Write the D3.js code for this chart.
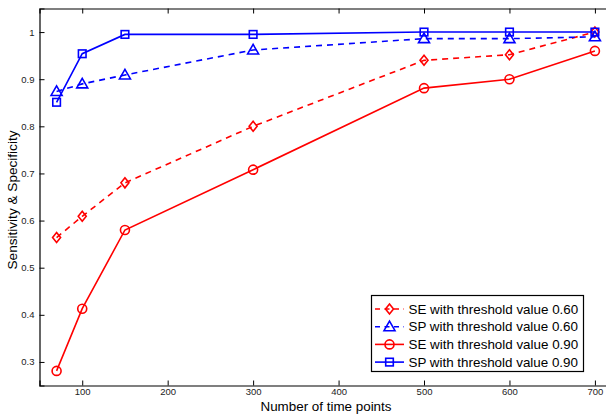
<!DOCTYPE html>
<html><head><meta charset="utf-8">
<script src="https://cdn.jsdelivr.net/npm/d3@7/dist/d3.min.js"></script>
<style>body{margin:0;background:#fff}svg{display:block}</style>
</head><body><svg id="c" width="606" height="414"></svg>
<script>
const xValues = [70, 100, 150, 300, 500, 600, 700];
const seThr060 = [0.564, 0.609, 0.680, 0.800, 0.940, 0.952, 1.000];
const spThr060 = [0.874, 0.890, 0.909, 0.962, 0.986, 0.986, 0.990];
const seThr090 = [0.281, 0.413, 0.580, 0.708, 0.881, 0.900, 0.960];
const spThr090 = [0.851, 0.954, 0.995, 0.995, 1.000, 1.000, 1.000];
const seriesNames = ["SE with threshold value 0.60","SP with threshold value 0.60","SE with threshold value 0.90","SP with threshold value 0.90"];
const xTicks = [100,200,300,400,500,600,700];
const yTicks = [0.3,0.4,0.5,0.6,0.7,0.8,0.9,1];
const xLabel = "Number of time points";
const yLabel = "Sensitivity & Specificity";

const series = [
  {name: seriesNames[0], vals: seThr060, color: "#ff0000", dash: "6,5", marker: "diamond"},
  {name: seriesNames[1], vals: spThr060, color: "#0000ff", dash: "6,5", marker: "triangle"},
  {name: seriesNames[2], vals: seThr090, color: "#ff0000", dash: null, marker: "circle"},
  {name: seriesNames[3], vals: spThr090, color: "#0000ff", dash: null, marker: "square"}
];

const svg = d3.select("#c");
const L = 39.5, T = 8.5, B = 385.5, R = 612;
const x = d3.scaleLinear().domain([50, 720]).range([L, R]);
const y = d3.scaleLinear().domain([0.25, 1.05]).range([B, T]);
const font = "'Liberation Sans', Arial, Helvetica, sans-serif";

// axes
const gx = svg.append("g").attr("transform", `translate(0,${B})`)
  .call(d3.axisBottom(x).tickValues(xTicks).tickSize(-5).tickPadding(3).tickFormat(d3.format("d")));
const gxt = svg.append("g").attr("transform", `translate(0,${T})`)
  .call(d3.axisTop(x).tickValues(xTicks).tickSize(-5).tickFormat(""));
const gy = svg.append("g").attr("transform", `translate(${L},0)`)
  .call(d3.axisLeft(y).tickValues(yTicks).tickSize(-5).tickPadding(5).tickFormat(d => d === 1 ? "1" : d3.format(".1f")(d)));
[gx, gxt, gy].forEach(g => {
  g.select(".domain").attr("stroke", "#000").attr("stroke-width", 1.2);
  g.selectAll(".tick line").attr("stroke", "#000").attr("stroke-width", 1);
  g.selectAll(".tick text").attr("font-family", font).attr("font-size", 9.5).attr("fill", "#222");
});

const line = d3.line().x((d, i) => x(xValues[i])).y(d => y(d));

function drawMarker(g, type, cx, cy, color) {
  if (type === "circle") {
    g.append("circle").attr("cx", cx).attr("cy", cy).attr("r", 4.5)
      .attr("fill", "none").attr("stroke", color).attr("stroke-width", 1.6);
  } else if (type === "square") {
    g.append("rect").attr("x", cx - 3.8).attr("y", cy - 3.8).attr("width", 7.6).attr("height", 7.6)
      .attr("fill", "none").attr("stroke", color).attr("stroke-width", 1.6);
  } else if (type === "triangle") {
    g.append("path").attr("d", `M${cx},${cy-5.5}L${cx+5.5},${cy+4}L${cx-5.5},${cy+4}Z`)
      .attr("fill", "none").attr("stroke", color).attr("stroke-width", 1.6);
  } else if (type === "diamond") {
    g.append("path").attr("d", `M${cx},${cy-5}L${cx+4},${cy}L${cx},${cy+5}L${cx-4},${cy}Z`)
      .attr("fill", "none").attr("stroke", color).attr("stroke-width", 1.6);
  }
}

const plot = svg.append("g");
series.forEach(s => {
  plot.append("path").datum(s.vals).attr("d", line)
    .attr("fill", "none").attr("stroke", s.color).attr("stroke-width", 1.6)
    .attr("stroke-dasharray", s.dash);
  const mg = plot.append("g");
  s.vals.forEach((v, i) => drawMarker(mg, s.marker, x(xValues[i]), y(v), s.color));
});

// axis labels
svg.append("text").attr("x", 326).attr("y", 410.5).attr("text-anchor", "middle")
  .attr("font-family", font).attr("font-size", 13.4).attr("fill", "#000").text(xLabel);
svg.append("text").attr("transform", "translate(17,200) rotate(-90)").attr("text-anchor", "middle")
  .attr("font-family", font).attr("font-size", 13.6).attr("fill", "#000").text(yLabel);

// legend
const lg = svg.append("g");
lg.append("rect").attr("x", 371.5).attr("y", 295.5).attr("width", 212).attr("height", 76)
  .attr("fill", "#fff").attr("stroke", "#000").attr("stroke-width", 1.2);
series.forEach((s, i) => {
  const cy = 309 + i * 17.7;
  lg.append("line").attr("x1", 375).attr("x2", 404).attr("y1", cy).attr("y2", cy)
    .attr("stroke", s.color).attr("stroke-width", 1.6).attr("stroke-dasharray", s.dash ? "5,4.5" : null);
  drawMarker(lg, s.marker, 389.5, cy, s.color);
  lg.append("text").attr("x", 408.5).attr("y", cy + 4.7)
    .attr("font-family", font).attr("font-size", 13.4).attr("fill", "#000").text(s.name);
});
</script></body></html>
